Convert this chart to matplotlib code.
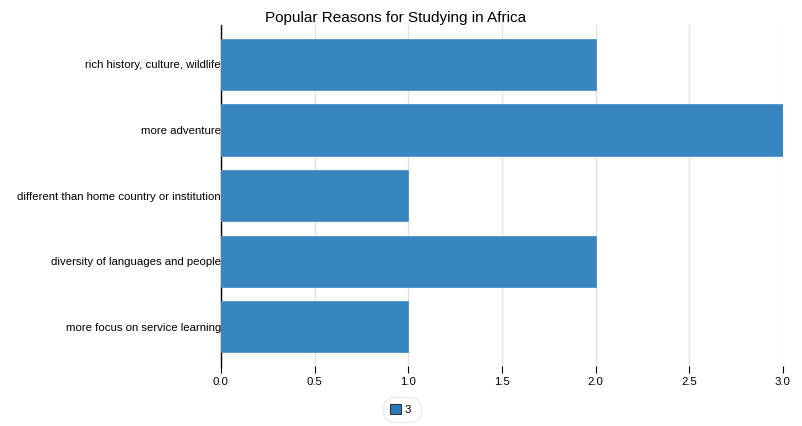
import matplotlib.pyplot as plt
from matplotlib.patches import Patch

plt.rcParams['font.family'] = ['Liberation Sans', 'DejaVu Sans']

reasons = [
    'rich history, culture, wildlife',
    'more adventure',
    'different than home country or institution',
    'diversity of languages and people',
    'more focus on service learning',
]
counts = [2, 3, 1, 2, 1]
series_name = '3'
xticks = [0.0, 0.5, 1.0, 1.5, 2.0, 2.5, 3.0]

bar_color = '#3786bf'

fig = plt.figure(figsize=(8.03, 4.26), dpi=100)
ax = fig.add_axes([0.275, 0.141, 0.700, 0.800])

ypos = list(range(len(reasons)))
ax.barh(ypos, counts, height=0.78, color=bar_color, edgecolor='#4a93c8', linewidth=0.6, zorder=3)
ax.set_yticks(ypos)
ax.set_yticklabels(reasons, fontsize=8.2)
ax.set_ylim(len(reasons) - 0.4, -0.6)
ax.set_xlim(0, 3.0)
ax.set_xticks(xticks)
ax.set_xticklabels([f'{t:.1f}' for t in xticks], fontsize=8.2)

ax.grid(axis='x', color='#e2e2e2', linewidth=1, zorder=0)
for side in ['top', 'right', 'bottom']:
    ax.spines[side].set_visible(False)
ax.spines['left'].set_color('black')
ax.spines['left'].set_linewidth(1)
ax.tick_params(axis='y', length=0, pad=0)
ax.tick_params(axis='x', length=5, color='black', width=0.8, pad=3)

fig.text(0.492, 0.975, 'Popular Reasons for Studying in Africa', ha='center', va='top', fontsize=11)

handle = Patch(facecolor='#2a7ab9', edgecolor='#333333', linewidth=0.8)
leg = fig.legend([handle], [series_name + ' '], loc='center', bbox_to_anchor=(0.501, 0.038),
                 fontsize=8.2, frameon=True, fancybox=True, edgecolor='#e6e6e6',
                 handlelength=0.9, handleheight=0.9, handletextpad=0.35, borderpad=0.62)
leg.get_frame().set_boxstyle('round', pad=0, rounding_size=1.0)
leg.get_frame().set_linewidth(1.0)

fig.savefig('out.png', dpi=100)
